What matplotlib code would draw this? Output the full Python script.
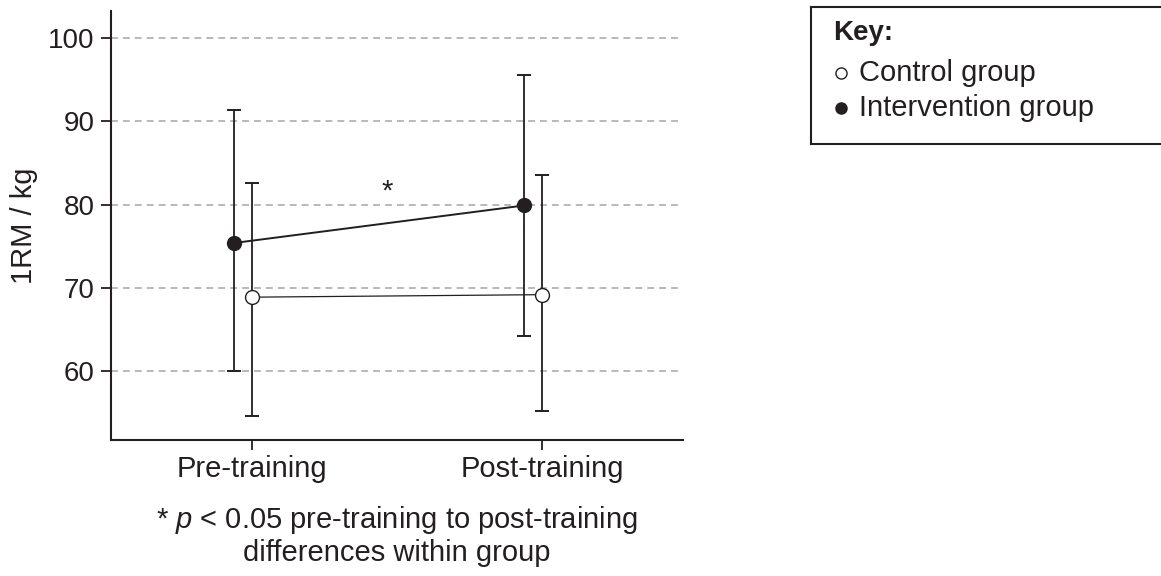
import numpy as np
import matplotlib
matplotlib.use('Agg')
import matplotlib.pyplot as plt

plt.rcParams['font.family'] = ['Liberation Sans', 'DejaVu Sans']
plt.rcParams['mathtext.fontset'] = 'custom'
plt.rcParams['mathtext.it'] = 'Liberation Sans:italic'
plt.rcParams['mathtext.rm'] = 'Liberation Sans'

# values (1RM in kg)
phases = ['Pre-training', 'Post-training']
control_mean = [68.9, 69.2]
control_low = [54.6, 55.2]
control_high = [82.6, 83.5]
interv_mean = [75.4, 79.9]
interv_low = [60.0, 64.2]
interv_high = [91.3, 95.5]

x = np.arange(len(phases))
offset = 0.062  # intervention drawn slightly left of the tick
ink = '#231f20'

fig = plt.figure(figsize=(11.61, 5.76), dpi=100)
ax = fig.add_axes([111 / 1161, 136 / 576, 572 / 1161, 429 / 576])

c_mean = np.array(control_mean)
i_mean = np.array(interv_mean)
c_err = [c_mean - np.array(control_low), np.array(control_high) - c_mean]
i_err = [i_mean - np.array(interv_low), np.array(interv_high) - i_mean]

ax.errorbar(x - offset, i_mean, yerr=i_err, fmt='none', ecolor=ink,
            elinewidth=1.3, capsize=5, capthick=1.4, zorder=3)
ax.errorbar(x, c_mean, yerr=c_err, fmt='none', ecolor=ink,
            elinewidth=1.3, capsize=5, capthick=1.4, zorder=3)
ax.plot(x - offset, i_mean, '-', color=ink, lw=1.4, zorder=4)
ax.plot(x, c_mean, '-', color=ink, lw=0.9, zorder=4)
ax.plot(x - offset, i_mean, 'o', ms=10, mfc=ink, mec=ink, mew=1, zorder=5)
ax.plot(x, c_mean, 'o', ms=10, mfc='white', mec=ink, mew=1, zorder=5)

ax.text(0.465, 81.6, '*', ha='center', va='center', fontsize=21, color=ink)

ax.set_xlim(-0.486, 1.486)
ax.set_ylim(51.76, 103.24)
ax.set_yticks([60, 70, 80, 90, 100])
ax.set_xticks(x)
ax.set_xticklabels(phases)
ax.yaxis.grid(True, color='#a6a6a6', lw=1.1, linestyle=(0, (4.5, 3.3)))
ax.set_axisbelow(True)

for s in ['top', 'right']:
    ax.spines[s].set_visible(False)
for s in ['left', 'bottom']:
    ax.spines[s].set_linewidth(1.5)
    ax.spines[s].set_color(ink)
ax.tick_params(axis='both', direction='out', length=7, width=1.3, colors=ink,
               labelcolor=ink)
ax.tick_params(axis='y', pad=5, labelsize=20)
ax.tick_params(axis='x', pad=4, labelsize=21)

ax.set_ylabel('1RM / kg', fontsize=21, color=ink)
ax.yaxis.set_label_coords(-0.128, 0.5)

fig.text(397 / 1161, 1 - 520 / 576, '* $p$ < 0.05 pre-training to post-training',
         ha='center', va='center', fontsize=21, color=ink)
fig.text(397 / 1161, 1 - 553 / 576, 'differences within group',
         ha='center', va='center', fontsize=21, color=ink)

# key box
kax = fig.add_axes([811 / 1161, 1 - 144 / 576, 350 / 1161, 137 / 576])
kax.set_xlim(0, 1)
kax.set_ylim(0, 1)
kax.set_xticks([])
kax.set_yticks([])
kax.spines['right'].set_visible(False)
for s in ['left', 'top', 'bottom']:
    kax.spines[s].set_linewidth(1.5)
    kax.spines[s].set_color(ink)
kax.text(0.063, 0.81, 'Key:', fontweight='bold', fontsize=20, va='center', color=ink)
kax.plot([0.085], [0.515], 'o', ms=8, mfc='white', mec=ink, mew=1)
kax.plot([0.085], [0.26], 'o', ms=8, mfc=ink, mec=ink, mew=1)
kax.text(0.137, 0.515, 'Control group', fontsize=21, va='center', color=ink)
kax.text(0.137, 0.26, 'Intervention group', fontsize=21, va='center', color=ink)

fig.savefig('out.png', dpi=100)
